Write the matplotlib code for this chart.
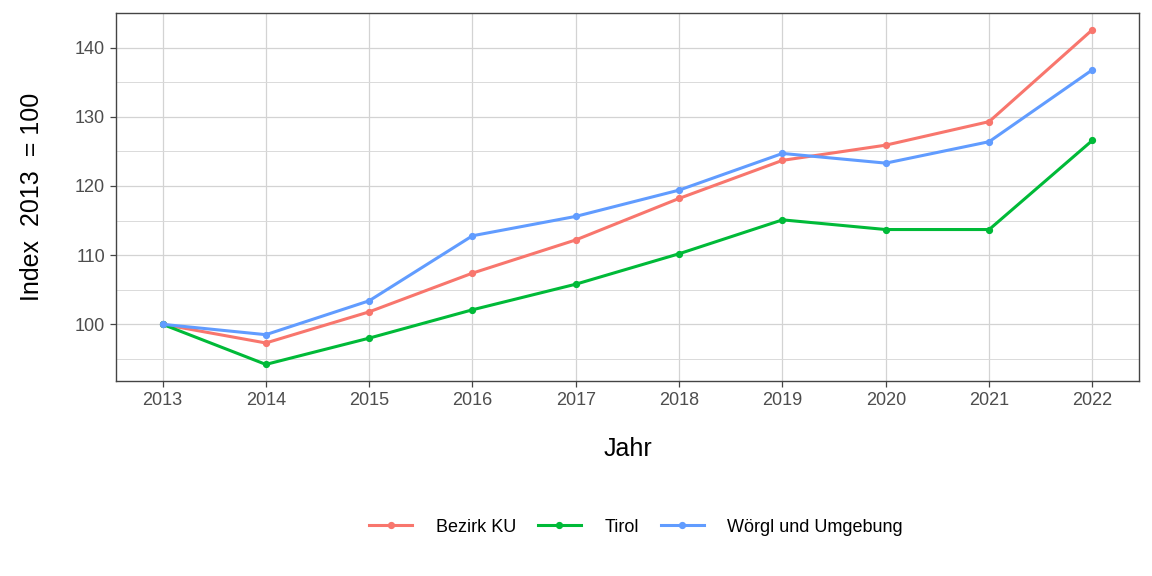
import matplotlib.pyplot as plt
from matplotlib.ticker import MultipleLocator

plt.rcParams['font.family'] = ['Liberation Sans', 'DejaVu Sans']

years = [2013, 2014, 2015, 2016, 2017, 2018, 2019, 2020, 2021, 2022]
bezirk_ku = [100.0, 97.3, 101.8, 107.4, 112.2, 118.2, 123.7, 125.9, 129.3, 142.6]
tirol = [100.0, 94.2, 98.0, 102.1, 105.8, 110.2, 115.1, 113.7, 113.7, 126.6]
woergl = [100.0, 98.5, 103.4, 112.8, 115.6, 119.4, 124.7, 123.3, 126.4, 136.8]

series = [
    ('Bezirk KU', bezirk_ku, '#F8766D'),
    ('Tirol', tirol, '#00BA38'),
    ('Wörgl und Umgebung', woergl, '#619CFF'),
]

fig = plt.figure(figsize=(11.52, 5.76), dpi=100)
ax = fig.add_axes([0.1007, 0.3385, 0.888, 0.6389])

for name, vals, col in series:
    ax.plot(years, vals, color=col, lw=2.2, marker='o', ms=4.2, label=name)

ax.set_xlim(2012.55, 2022.45)
ax.set_ylim(91.8, 145.0)
ax.set_xticks(years)
ax.yaxis.set_major_locator(MultipleLocator(10))
ax.yaxis.set_minor_locator(MultipleLocator(5))
ax.grid(which='major', color='#D3D3D3', lw=0.9)
ax.grid(which='minor', color='#DADADA', lw=0.7)
ax.set_axisbelow(True)
for s in ax.spines.values():
    s.set_color('#444444')
    s.set_linewidth(1.0)
ax.tick_params(which='major', length=4, width=0.9, color='#444444',
               labelsize=13, labelcolor='#4D4D4D', pad=4)
ax.tick_params(which='minor', length=0)

ax.set_xlabel('Jahr', fontsize=18, labelpad=20)
ax.set_ylabel('Index  2013  = 100', fontsize=18, labelpad=22)

fig.legend(loc='center', bbox_to_anchor=(0.552, 0.085), ncol=3, frameon=False,
           fontsize=13, handlelength=2.4, columnspacing=1.2, handletextpad=1.3)

fig.savefig('out.png', dpi=100)
